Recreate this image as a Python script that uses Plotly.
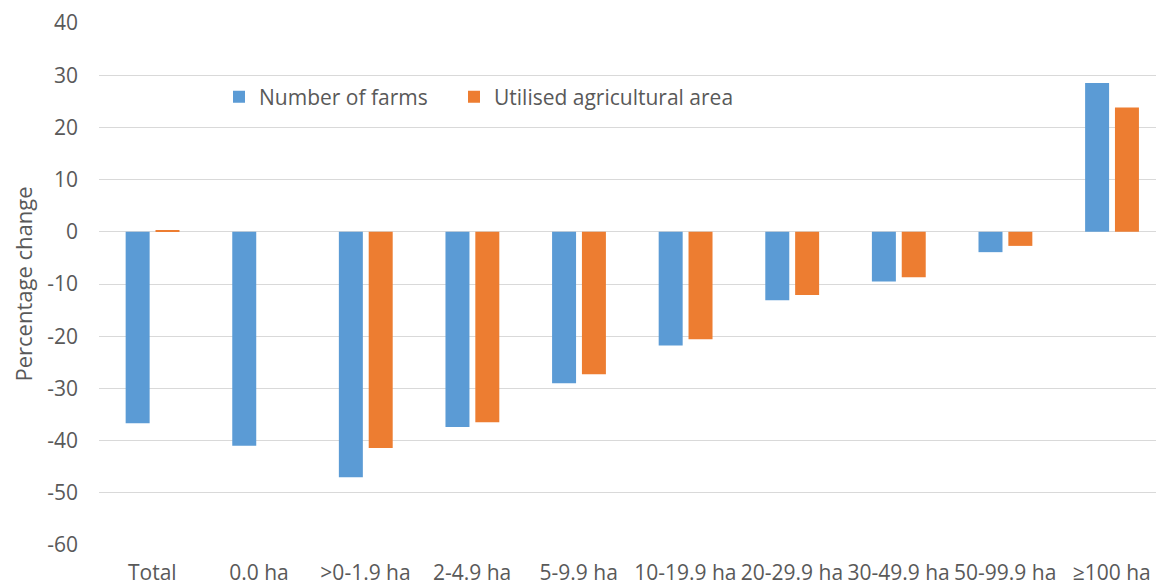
import plotly.graph_objects as go

# Farm size classes and percentage change per series
categories = ["Total", "0.0 ha", ">0-1.9 ha", "2-4.9 ha", "5-9.9 ha",
              "10-19.9 ha", "20-29.9 ha", "30-49.9 ha", "50-99.9 ha", "≥100 ha"]
farms = [-36.7, -41.0, -47.0, -37.4, -29.0, -21.8, -13.1, -9.5, -3.9, 28.5]
area = [0.3, 0.0, -41.4, -36.5, -27.3, -20.6, -12.1, -8.7, -2.7, 23.8]
y_ticks = [40, 30, 20, 10, 0, -10, -20, -30, -40, -50, -60]
y_tick_text = [str(v) for v in y_ticks]  # plain hyphen for negatives

FONT = "Open Sans"
TEXT = "#595959"
GRID = "#d9d9d9"
W, H = 1156, 585
L, T, B = 99, 23, 40
PLOT_W, PLOT_H = W - L, H - T - B


def legend_box(px_left, px_mid_y):
    # legend placed by pixel position of its item start and vertical centre
    return dict(
        orientation="h",
        x=(px_left - L) / PLOT_W, xanchor="left",
        y=(H - B - px_mid_y) / PLOT_H, yanchor="middle",
        font=dict(family=FONT, size=21, color=TEXT),
        bgcolor="rgba(0,0,0,0)",
    )


fig = go.Figure()
fig.add_trace(go.Bar(
    x=categories, y=farms, name="Number of farms",
    marker=dict(color="#5B9BD5", line=dict(width=0)),
    width=0.225, offset=-0.25, legend="legend",
))
fig.add_trace(go.Bar(
    x=categories, y=area, name="Utilised agricultural area",
    marker=dict(color="#ED7D31", line=dict(width=0)),
    width=0.225, offset=0.03, legend="legend2",
))

fig.update_layout(
    width=W, height=H,
    margin=dict(l=L, r=0, t=T, b=B, pad=0, autoexpand=False),
    paper_bgcolor="white", plot_bgcolor="white",
    font=dict(family=FONT, size=21, color=TEXT),
    showlegend=True,
    legend=legend_box(219, 97),
    legend2=legend_box(454, 97),
    xaxis=dict(
        range=[-0.5, 9.415], automargin=False,
        showgrid=False, showline=False, ticks="",
        tickfont=dict(family=FONT, size=21, color=TEXT),
        ticklabelstandoff=13,
    ),
    yaxis=dict(
        range=[-60, 40], tickvals=y_ticks, ticktext=y_tick_text,
        automargin=False,
        showgrid=True, gridcolor=GRID, gridwidth=1.3,
        zeroline=True, zerolinecolor=GRID, zerolinewidth=1.3,
        showline=False, ticks="",
        tickfont=dict(family=FONT, size=21, color=TEXT),
        ticklabelstandoff=20,
        title=dict(text="Percentage change", standoff=8,
                   font=dict(family=FONT, size=22, color=TEXT)),
    ),
)

fig.write_html("out.html")
